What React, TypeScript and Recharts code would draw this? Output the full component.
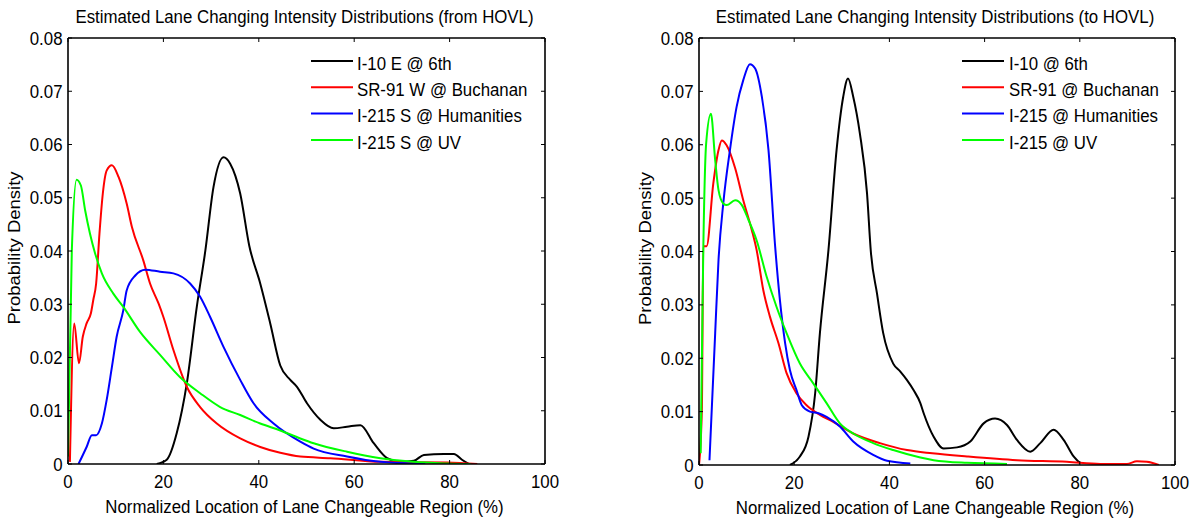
import React from 'react';
import { LineChart, Line, XAxis, YAxis, Legend, ReferenceLine } from 'recharts';

const FONT = '"Liberation Sans", Arial, Helvetica, sans-serif';
const FS = 18.5;
const SX = 0.91;

const xTicks = [0, 20, 40, 60, 80, 100];
const yTicks = [0, 0.01, 0.02, 0.03, 0.04, 0.05, 0.06, 0.07, 0.08];

const titleFrom = 'Estimated Lane Changing Intensity Distributions (from HOVL)';
const titleTo = 'Estimated Lane Changing Intensity Distributions (to HOVL)';
const xLabelText = 'Normalized Location of Lane Changeable Region (%)';
const yLabelText = 'Probability Density';

const namesFrom = ['I-10 E @ 6th', 'SR-91 W @ Buchanan', 'I-215 S @ Humanities', 'I-215 S @ UV'];
const namesTo = ['I-10 @ 6th', 'SR-91 @ Buchanan', 'I-215 @ Humanities', 'I-215 @ UV'];
const colors = ['#000000', '#ff0000', '#0000ff', '#00ff00'];

// ---------- from HOVL ----------
const fromI10X = [18.6, 20.7, 22.8, 24.9, 27.0, 28.8, 30.5, 32.6, 34.0, 36.1, 38.0, 40.3, 42.4, 44.5, 46.6, 48.0, 50.1, 52.9, 55.7, 58.5, 61.3, 64.1, 66.9, 69.7, 72.5, 74.6, 78.8, 80.9, 82.6, 84.0];
const fromI10Y = [0, 0.0008, 0.0058, 0.0151, 0.0295, 0.0401, 0.052, 0.0576, 0.0564, 0.0508, 0.041, 0.0339, 0.0264, 0.0185, 0.0158, 0.0145, 0.0114, 0.0083, 0.0067, 0.007, 0.0073, 0.0039, 0.0011, 0.0004, 0.0006, 0.0017, 0.0019, 0.0019, 0.0008, 0];

const fromSR91X = [0.4, 1.3, 2.3, 3.1, 3.9, 4.8, 5.3, 5.9, 6.6, 7.3, 8.1, 9.2, 10.6, 12.3, 13.4, 15.8, 17.2, 19.0, 20.0, 22.1, 24.9, 27.7, 31.2, 36.1, 40.3, 44.5, 48.7, 55.0, 65.5, 79.5, 85.8];
const fromSR91Y = [0.0004, 0.0264, 0.0189, 0.0239, 0.0264, 0.0283, 0.0308, 0.0339, 0.0433, 0.0508, 0.0551, 0.0561, 0.0539, 0.0489, 0.0445, 0.0382, 0.0339, 0.0301, 0.0276, 0.0214, 0.0145, 0.0107, 0.0076, 0.0048, 0.0032, 0.0021, 0.0014, 0.0011, 0.0004, 0.0003, 0];

const fromHumX = [2.2, 3.9, 5.0, 5.9, 7.1, 8.1, 9.2, 10.2, 11.6, 12.3, 14.1, 16.2, 19.3, 22.1, 25.6, 27.7, 29.8, 32.6, 36.1, 38.9, 43.1, 48.7, 51.5, 58.5, 65.5, 74.9];
const fromHumY = [0, 0.0032, 0.0054, 0.0054, 0.0076, 0.012, 0.0182, 0.0239, 0.0289, 0.0326, 0.0354, 0.0365, 0.0361, 0.0358, 0.0339, 0.0314, 0.0276, 0.022, 0.0158, 0.0114, 0.0076, 0.0042, 0.0029, 0.0014, 0.0004, 0];

const fromUVX = [0, 0.8, 1.8, 2.7, 3.6, 4.6, 5.7, 7.1, 9.5, 11.6, 15.1, 19.3, 23.5, 27.7, 31.9, 36.1, 40.3, 44.5, 48.7, 51.5, 58.5, 65.5, 72.4, 79.5, 84.4];
const fromUVY = [0.0014, 0.040, 0.0534, 0.0523, 0.0476, 0.0433, 0.0395, 0.0358, 0.032, 0.0295, 0.0248, 0.0205, 0.0163, 0.0133, 0.0107, 0.0092, 0.0076, 0.0063, 0.0048, 0.0039, 0.0023, 0.0011, 0.0004, 0.0001, 0];

// ---------- to HOVL ----------
const toI10X = [19.1, 21.2, 23.0, 24.4, 25.4, 27.2, 28.9, 30.3, 31.3, 32.4, 33.8, 35.3, 36.1, 37.4, 38.7, 40.8, 42.3, 43.7, 45.1, 46.5, 47.2, 49.3, 51.4, 54.2, 57.0, 59.8, 62.2, 64.7, 66.8, 69.6, 71.7, 74.5, 76.6, 78.7, 80.1];
const toI10Y = [0, 0.0016, 0.0053, 0.0134, 0.0247, 0.0403, 0.059, 0.069, 0.0724, 0.069, 0.0621, 0.0509, 0.040, 0.0321, 0.0247, 0.019, 0.0175, 0.0159, 0.014, 0.0116, 0.0097, 0.0053, 0.0031, 0.0033, 0.0044, 0.0078, 0.0087, 0.0075, 0.0047, 0.0025, 0.0041, 0.0066, 0.0047, 0.0016, 0.0003];

const toSR91X = [0, 0.6, 0.9, 1.6, 3.0, 4.1, 4.8, 5.8, 7.6, 9.3, 11.1, 12.1, 13.5, 14.9, 16.7, 18.4, 20.5, 22.6, 25.4, 28.2, 32.4, 38.0, 43.7, 49.0, 56.3, 66.8, 77.3, 84.3, 89.9, 92.0, 94.1, 96.6];
const toSR91Y = [0, 0.0103, 0.041, 0.041, 0.0527, 0.059, 0.0608, 0.0599, 0.0556, 0.0496, 0.044, 0.0403, 0.0328, 0.0278, 0.0228, 0.0172, 0.0134, 0.0112, 0.0094, 0.0081, 0.0059, 0.0041, 0.0028, 0.0022, 0.0016, 0.0009, 0.0006, 0.0002, 0.0002, 0.0007, 0.0006, 0];

const toHumX = [2.2, 3.4, 4.1, 5.1, 6.5, 7.9, 9.3, 10.7, 11.8, 13.2, 14.6, 16.0, 17.0, 18.1, 19.1, 20.5, 21.6, 23.3, 25.1, 26.8, 29.6, 32.4, 36.6, 39.5, 44.4];
const toHumY = [0.0009, 0.0247, 0.0384, 0.049, 0.059, 0.0671, 0.0721, 0.0751, 0.0743, 0.069, 0.059, 0.0409, 0.0309, 0.0228, 0.0178, 0.014, 0.0112, 0.01, 0.0097, 0.009, 0.0072, 0.0044, 0.0019, 0.0008, 0.0003];

const toUVX = [0.35, 0.9, 1.5, 2.5, 3.4, 4.1, 5.1, 5.8, 7.6, 9.0, 10.4, 12.1, 14.2, 16.3, 18.4, 21.2, 24.0, 26.8, 29.6, 32.4, 36.6, 40.8, 46.5, 49.3, 56.3, 64.7];
const toUVY = [0.0022, 0.0403, 0.0602, 0.0658, 0.0571, 0.0515, 0.049, 0.0487, 0.0496, 0.0487, 0.0459, 0.0421, 0.0353, 0.0296, 0.0247, 0.019, 0.0153, 0.0116, 0.0078, 0.0059, 0.0041, 0.0028, 0.0014, 0.0009, 0.0004, 0.0002];

const zip = (xs: number[], ys: number[]) => xs.map((x, i) => ({ x, y: ys[i] }));

const fromSeries = [zip(fromI10X, fromI10Y), zip(fromSR91X, fromSR91Y), zip(fromHumX, fromHumY), zip(fromUVX, fromUVY)];
const toSeries = [zip(toI10X, toI10Y), zip(toSR91X, toSR91Y), zip(toHumX, toHumY), zip(toUVX, toUVY)];

const SText = ({ x, y, anchor = 'start', rotate = false, children }: any) => (
  <text
    transform={`translate(${x},${y}) scale(${SX},1)${rotate ? ' rotate(-90)' : ''}`}
    x={0}
    y={0}
    textAnchor={anchor}
    fontFamily={FONT}
    fontSize={FS}
    fill="#000"
  >
    {children}
  </text>
);

const TICK = 4;
const PLOT_TOP = 38;

const axisLine = { stroke: '#000', strokeWidth: 1.6 };

function Panel({ left, width, marginRight, xAxisHeight, title, names, series, legendLineX, legendTextX }: any) {
  const plotRight = width - marginRight;

  const bottomTick = (p: any) => (
    <g>
      <line x1={p.x} x2={p.x} y1={p.y} y2={p.y - TICK} stroke="#000" strokeWidth={1} />
      <line x1={p.x} x2={p.x} y1={PLOT_TOP} y2={PLOT_TOP + TICK} stroke="#000" strokeWidth={1} />
      <SText x={p.x} y={p.y + 23.5} anchor="middle">{String(p.payload.value)}</SText>
    </g>
  );
  const leftTick = (p: any) => {
    const v = p.payload.value;
    return (
      <g>
        <line x1={p.x} x2={p.x + TICK} y1={p.y} y2={p.y} stroke="#000" strokeWidth={1} />
        <line x1={plotRight} x2={plotRight - TICK} y1={p.y} y2={p.y} stroke="#000" strokeWidth={1} />
        <SText x={p.x - 5.5} y={p.y + 6.6} anchor="end">{v === 0 ? '0' : Number(v).toFixed(2)}</SText>
      </g>
    );
  };

  const legendContent = () => (
    <svg width={width} height={523} style={{ position: 'absolute', left: 0, top: 0, overflow: 'visible' }}>
      {names.map((n: string, i: number) => {
        const y = 61 + i * 26.3;
        return (
          <g key={n}>
            <line x1={legendLineX} x2={legendLineX + 42} y1={y} y2={y} stroke={colors[i]} strokeWidth={2} />
            <SText x={legendTextX} y={y + 8.8}>{n}</SText>
          </g>
        );
      })}
    </svg>
  );

  return (
    <div style={{ position: 'absolute', left, top: 0, width, height: 523 }}>
      <LineChart width={width} height={523} margin={{ top: PLOT_TOP, right: marginRight, bottom: 0, left: 0 }}>
        <XAxis
          xAxisId="b"
          type="number"
          dataKey="x"
          domain={[0, 100]}
          ticks={xTicks}
          interval={0}
          allowDataOverflow
          height={xAxisHeight}
          tickSize={0}
          tickMargin={0}
          tickLine={false}
          axisLine={axisLine}
          tick={bottomTick}
          label={(p: any) => {
            const vb = p.viewBox;
            return (
              <g>
                <SText x={vb.x + vb.width / 2 - 2} y={vb.y + 49} anchor="middle">{xLabelText}</SText>
                <SText x={vb.x + vb.width / 2 - 2} y={23} anchor="middle">{title}</SText>
              </g>
            );
          }}
        />
        <YAxis
          yAxisId="l"
          type="number"
          dataKey="y"
          domain={[0, 0.08]}
          ticks={yTicks}
          interval={0}
          allowDataOverflow
          width={68}
          tickSize={0}
          tickMargin={0}
          tickLine={false}
          axisLine={axisLine}
          tick={leftTick}
          label={(p: any) => {
            const vb = p.viewBox;
            return <SText x={20} y={vb.y + vb.height / 2 - 3} anchor="middle" rotate>{yLabelText}</SText>;
          }}
        />
        <ReferenceLine xAxisId="b" yAxisId="l" y={0.08} stroke="#000" strokeWidth={1.6} ifOverflow="visible" />
        <ReferenceLine xAxisId="b" yAxisId="l" x={100} stroke="#000" strokeWidth={1.6} ifOverflow="visible" />
        {series.map((s: any, i: number) => (
          <Line
            key={names[i]}
            xAxisId="b"
            yAxisId="l"
            data={s}
            dataKey="y"
            name={names[i]}
            type="monotone"
            stroke={colors[i]}
            strokeWidth={2}
            dot={false}
            activeDot={false}
            isAnimationActive={false}
          />
        ))}
        <Legend
          layout="vertical"
          align="center"
          verticalAlign="middle"
          wrapperStyle={{ left: 0, top: 0, width, height: 523, pointerEvents: 'none' }}
          content={legendContent}
        />
      </LineChart>
    </div>
  );
}

export default function App() {
  return (
    <div style={{ position: 'absolute', left: 0, top: 0, width: 1194, height: 523, background: '#fff' }}>
      <Panel
        left={0}
        width={600}
        marginRight={55}
        xAxisHeight={59}
        title={titleFrom}
        names={namesFrom}
        series={fromSeries}
        legendLineX={311}
        legendTextX={357}
      />
      <Panel
        left={631}
        width={563}
        marginRight={19}
        xAxisHeight={58}
        title={titleTo}
        names={namesTo}
        series={toSeries}
        legendLineX={331}
        legendTextX={378}
      />
    </div>
  );
}
